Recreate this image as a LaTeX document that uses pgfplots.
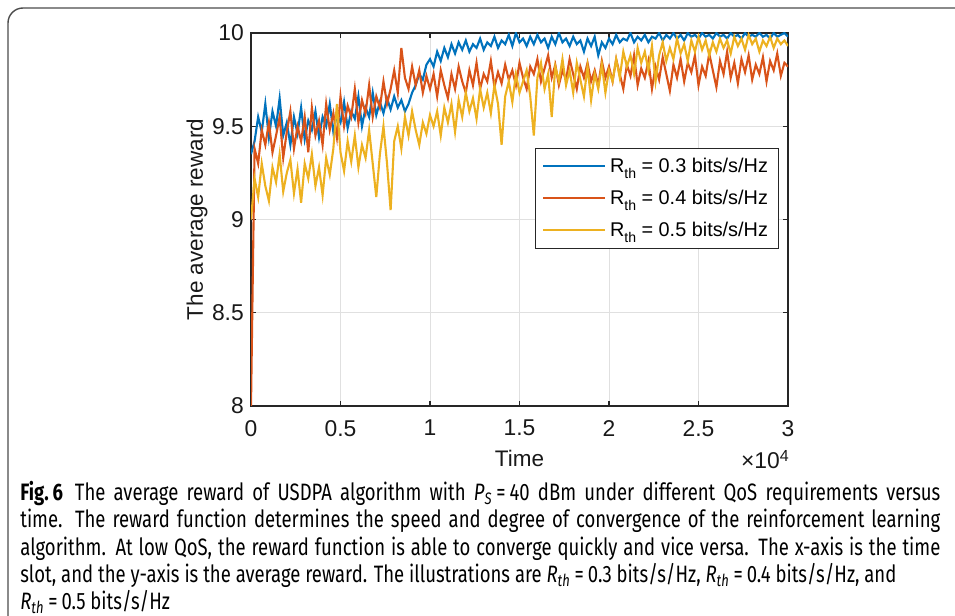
\documentclass[border=0pt]{standalone}
\usepackage{fontspec}
\setmainfont{Liberation Sans}
\newfontfamily\capfont[FakeStretch=0.78]{Fira Sans}
\usepackage{pgfplots}
\pgfplotsset{compat=1.18}
\usepackage{pgfplotstable}

\definecolor{mblue}{rgb}{0,0.447,0.741}
\definecolor{morange}{rgb}{0.85,0.325,0.098}
\definecolor{myellow}{rgb}{0.929,0.694,0.125}

\newcommand\Rth{R\raisebox{-0.6ex}{\fontsize{8}{9}\selectfont th}}

% t, R_th=0.3 (b), R_th=0.4 (o), R_th=0.5 (y)
\pgfplotstableread{
t b o y
0 9.35 8.00 9.00
200 9.42 9.38 9.22
400 9.55 9.30 9.12
600 9.47 9.48 9.30
800 9.62 9.40 9.18
1000 9.44 9.52 9.10
1200 9.58 9.36 9.28
1400 9.50 9.45 9.20
1600 9.65 9.55 9.35
1800 9.45 9.33 9.15
2000 9.52 9.47 9.25
2200 9.40 9.58 9.32
2400 9.55 9.38 9.14
2600 9.46 9.50 9.27
2800 9.60 9.42 9.09
3000 9.43 9.55 9.30
3200 9.53 9.36 9.22
3400 9.48 9.60 9.35
3600 9.58 9.45 9.18
3800 9.44 9.53 9.28
4000 9.55 9.40 9.13
4200 9.50 9.62 9.33
4400 9.62 9.48 9.24
4600 9.47 9.57 9.38
4800 9.56 9.44 9.62
5000 9.52 9.66 9.36
5200 9.63 9.50 9.26
5400 9.49 9.61 9.42
5600 9.58 9.55 9.31
5800 9.54 9.70 9.45
6000 9.66 9.52 9.28
6200 9.50 9.64 9.40
6400 9.60 9.57 9.33
6600 9.55 9.72 9.48
6800 9.68 9.55 9.30
7000 9.56 9.66 9.12
7200 9.63 9.60 9.35
7400 9.57 9.74 9.50
7600 9.65 9.62 9.30
7800 9.59 9.70 9.05
8000 9.66 9.80 9.42
8200 9.60 9.68 9.50
8400 9.64 9.92 9.38
8600 9.58 9.76 9.55
8800 9.62 9.70 9.45
9000 9.68 9.82 9.58
9200 9.72 9.72 9.48
9400 9.78 9.80 9.40
9600 9.75 9.68 9.52
9800 9.83 9.77 9.46
10000 9.86 9.70 9.56
10200 9.82 9.78 9.50
10400 9.90 9.66 9.58
10600 9.85 9.80 9.45
10800 9.92 9.72 9.60
11000 9.87 9.65 9.52
11200 9.94 9.78 9.62
11400 9.89 9.70 9.47
11600 9.95 9.82 9.64
11800 9.91 9.74 9.55
12000 9.96 9.68 9.68
12200 9.90 9.80 9.58
12400 9.94 9.72 9.65
12600 9.92 9.84 9.54
12800 9.97 9.70 9.70
13000 9.91 9.78 9.60
13200 9.95 9.74 9.68
13400 9.93 9.85 9.57
13600 9.98 9.71 9.72
13800 9.92 9.79 9.62
14000 9.96 9.73 9.40
14200 9.94 9.83 9.66
14400 9.99 9.75 9.74
14600 9.93 9.80 9.63
14800 10.00 9.72 9.78
15000 9.95 9.84 9.68
15200 9.97 9.76 9.74
15400 9.93 9.70 9.80
15600 9.98 9.82 9.66
15800 9.94 9.78 9.45
16000 9.99 9.86 9.76
16200 9.95 9.74 9.84
16400 9.97 9.81 9.70
16600 9.92 9.88 9.78
16800 9.98 9.76 9.55
17000 9.94 9.83 9.82
17200 10.00 9.72 9.74
17400 9.95 9.80 9.86
17600 9.97 9.75 9.72
17800 9.93 9.86 9.80
18000 9.98 9.78 9.68
18200 9.94 9.70 9.84
18400 9.96 9.82 9.75
18600 9.90 9.76 9.66
18800 9.97 9.84 9.82
19000 9.93 9.74 9.64
19200 9.98 9.80 9.78
19400 9.88 9.72 9.70
19600 9.95 9.85 9.83
19800 9.92 9.76 9.68
20000 9.97 9.82 9.80
20200 9.94 9.74 9.74
20400 9.99 9.86 9.86
20600 9.95 9.78 9.76
20800 9.97 9.70 9.90
21000 9.96 9.83 9.82
21200 10.00 9.77 9.88
21400 9.95 9.88 9.78
21600 9.98 9.72 9.92
21800 9.96 9.81 9.84
22000 9.99 9.76 9.90
22200 9.95 9.85 9.80
22400 9.98 9.70 9.93
22600 9.97 9.82 9.74
22800 10.00 9.75 9.88
23000 9.96 9.87 9.95
23200 9.99 9.78 9.85
23400 9.97 9.69 9.92
23600 10.00 9.83 9.86
23800 9.97 9.76 9.97
24000 9.99 9.86 9.89
24200 9.96 9.74 9.94
24400 10.00 9.84 9.85
24600 9.98 9.79 9.96
24800 9.99 9.88 9.90
25000 9.97 9.72 9.98
25200 10.00 9.82 9.91
25400 9.98 9.77 9.96
25600 9.99 9.89 9.88
25800 9.97 9.80 9.95
26000 10.00 9.71 9.90
26200 9.98 9.85 9.97
26400 9.99 9.78 9.92
26600 9.97 9.90 9.96
26800 10.00 9.76 9.89
27000 9.98 9.84 9.98
27200 9.99 9.73 9.93
27400 9.97 9.86 9.97
27600 10.00 9.79 9.91
27800 9.98 9.88 9.99
28000 9.99 9.75 9.94
28200 9.98 9.83 9.97
28400 10.00 9.78 9.90
28600 9.98 9.87 9.96
28800 9.99 9.74 9.93
29000 9.97 9.85 9.98
29200 10.00 9.80 9.92
29400 9.98 9.89 9.97
29600 9.99 9.77 9.94
29800 10.00 9.84 9.96
30000 9.98 9.82 9.93
}\rewards

\begin{document}
\begin{tikzpicture}
\path[use as bounding box] (0,0) rectangle (19.1,12.32);
\draw[black!70, line width=0.8pt, rounded corners=0.3cm] (0.16,12.16) rectangle (19.7,-0.7);
\begin{axis}[
    name=ax,
    at={(5.02cm,4.2cm)}, anchor=south west,
    scale only axis, width=10.74cm, height=7.46cm,
    xmin=0, xmax=30000, ymin=8, ymax=10,
    scaled x ticks=false,
    xtick={0,5000,10000,15000,20000,25000,30000},
    xticklabels={0,0.5,1,1.5,2,2.5,3},
    ytick={8,8.5,9,9.5,10},
    yticklabels={8,8.5,9,9.5,10},
    /pgf/number format/assume math mode=true,
    grid=major,
    major grid style={black!12, line width=0.5pt},
    axis line style={black!85, line width=0.6pt},
    tick style={black!85, line width=0.6pt},
    major tick length=0.1cm,
    tick align=inside,
    ticklabel style={font=\fontsize{13}{15}\selectfont, text=black!90},
    xticklabel style={yshift=-0.16cm},
    yticklabel style={xshift=-0.02cm},
    xlabel={Time},
    ylabel={The average reward},
    label style={font=\fontsize{12.8}{14}\selectfont, text=black!90},
    xlabel style={at={(axis description cs:0.5,-0.1609)}, anchor=base},
    ylabel style={at={(axis description cs:-0.0894,0.5)}, anchor=base},
    no markers,
    legend cell align=left,
    legend style={at={(0.983,0.692)}, anchor=north east,
      draw=black!85, fill=white, inner xsep=4pt, inner ysep=3.5pt,
      font=\fontsize{11.3}{13}\selectfont, row sep=4.5pt},
    legend image code/.code={\draw[#1, line width=1.2pt] (0cm,0cm) -- (1.24cm,0cm);},
  ]
  \addplot[mblue, line width=1.2pt] table[x=t, y=b] {\rewards};
  \addlegendentry{\Rth{} = 0.3 bits/s/Hz}
  \addplot[morange, line width=1.2pt] table[x=t, y=o] {\rewards};
  \addlegendentry{\Rth{} = 0.4 bits/s/Hz}
  \addplot[myellow, line width=1.2pt] table[x=t, y=y] {\rewards};
  \addlegendentry{\Rth{} = 0.5 bits/s/Hz}
\end{axis}
\node[anchor=base east, inner sep=0pt, font=\fontsize{13}{15}\selectfont, text=black!90]
  at ([xshift=0.04cm, yshift=-1.26cm]ax.south east) {×10\textsuperscript{4}};
\node[anchor=north west, inner sep=0pt, text width=18.4cm, align=justify,
      font=\capfont\fontsize{13.5}{15.5}\selectfont] at (0.4,2.70)
  {\textbf{Fig.\,6}\enspace The average reward of USDPA algorithm with \textit{P}\textsubscript{\textit{S}}\,=\,40 dBm under different QoS requirements versus\linebreak
   time. The reward function determines the speed and degree of convergence of the reinforcement learning\linebreak
   algorithm. At low QoS, the reward function is able to converge quickly and vice versa. The x-axis is the time\linebreak
   slot, and the y-axis is the average reward. The illustrations are \textit{R}\textsubscript{\textit{th}}\,=\,0.3 bits/s/Hz, \textit{R}\textsubscript{\textit{th}}\,=\,0.4 bits/s/Hz, and\newline
   \textit{R}\textsubscript{\textit{th}}\,=\,0.5 bits/s/Hz};
\end{tikzpicture}
\end{document}
